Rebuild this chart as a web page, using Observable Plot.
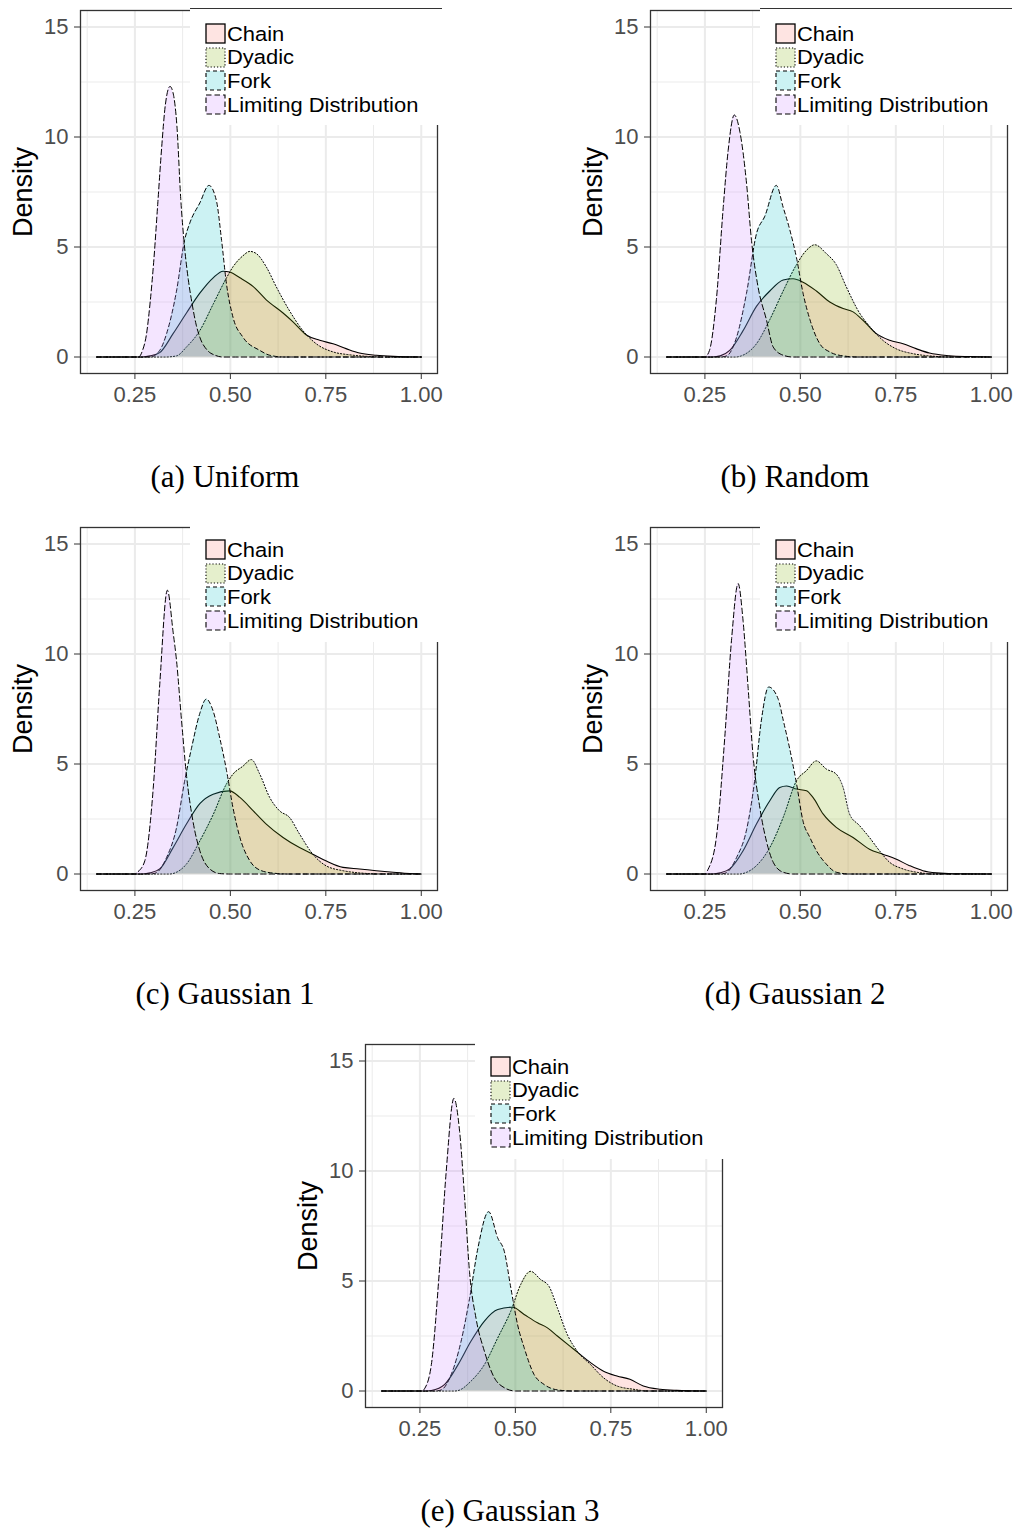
<!DOCTYPE html>
<html><head><meta charset="utf-8">
<script src="https://cdn.jsdelivr.net/npm/d3@7"></script>
<script src="https://cdn.jsdelivr.net/npm/@observablehq/plot@0.6"></script>
<style>
body{margin:0;background:#fff;}
#root{position:relative;width:1020px;height:1528px;background:#fff;font-family:"Liberation Sans",Arial,sans-serif;overflow:hidden;}
.panel{position:absolute;width:450px;height:520px;}
.panel > svg{position:absolute;left:0;top:0;}
.legend{position:absolute;left:190px;top:8px;width:252px;height:117px;background:#fff;box-sizing:border-box;padding-top:13px;}
.legend.topline{border-top:1px solid #333;}
.lrow{height:23.6px;display:flex;align-items:center;padding-left:15px;color:#000;white-space:nowrap;}
.lrow svg{flex:none;margin-right:1px;}
.lrow span{display:inline-block;font-size:20.5px;line-height:normal;transform:scaleX(1.07);transform-origin:left center;}
.caption{position:absolute;left:0;top:461px;width:450px;text-align:center;font-family:"Liberation Serif","Times New Roman",serif;font-size:31px;line-height:31px;color:#000;}
svg [aria-label="x-axis tick label"] text, svg [aria-label="y-axis tick label"] text{fill:#4d4d4d;}
</style>
</head><body><div id="root"></div>
<script>
// ---- shared categories / ticks ----
const seriesNames = ["Chain", "Dyadic", "Fork", "Limiting Distribution"];
const seriesColors = ["#F8766D", "#7CAE00", "#00BFC4", "#C77CFF"];
const seriesDash = [null, "1.2,2", "4,3", "5.5,3"];
const xTicks = [0.25, 0.5, 0.75, 1.0];
const xMinor = [0.125, 0.375, 0.625, 0.875];
const yTicks = [0, 5, 10, 15];
const yMinor = [2.5, 7.5, 12.5];
const panelCaptions = ["(a) Uniform", "(b) Random", "(c) Gaussian 1", "(d) Gaussian 2", "(e) Gaussian 3"];

// ---- (a) Uniform ----
const uniformChain = [[0.15,0],[0.27,0],[0.29,0.05],[0.315,0.2],[0.35,1.06],[0.385,2.0],[0.42,2.9],[0.455,3.6],[0.481,3.9],[0.498,3.86],[0.525,3.6],[0.56,3.2],[0.594,2.6],[0.638,2.0],[0.664,1.6],[0.699,1.0],[0.734,0.76],[0.769,0.6],[0.803,0.38],[0.838,0.18],[0.882,0.08],[0.926,0.03],[1.0,0]];
const uniformDyadic = [[0.15,0],[0.33,0],[0.359,0.05],[0.385,0.45],[0.42,1.2],[0.455,2.4],[0.49,3.6],[0.507,4.1],[0.533,4.6],[0.551,4.8],[0.568,4.7],[0.594,4.1],[0.62,3.2],[0.655,2.1],[0.69,1.2],[0.725,0.6],[0.769,0.23],[0.812,0.1],[0.856,0.03],[0.9,0],[1.0,0]];
const uniformFork = [[0.15,0],[0.29,0],[0.315,0.3],[0.333,1.06],[0.359,3.0],[0.38,5.3],[0.394,6.1],[0.42,7.0],[0.444,7.8],[0.4635,7.1],[0.477,5.3],[0.49,3.3],[0.507,1.8],[0.533,0.9],[0.577,0.3],[0.603,0.08],[0.64,0],[1.0,0]];
const uniformLimiting = [[0.15,0],[0.26,0],[0.27,0.3],[0.28,1.0],[0.29,2.5],[0.30,4.5],[0.31,7.0],[0.32,9.5],[0.33,11.5],[0.342,12.3],[0.35,12.0],[0.36,10.5],[0.37,7.2],[0.38,5.0],[0.39,3.5],[0.40,2.4],[0.41,1.5],[0.42,0.9],[0.44,0.3],[0.46,0.08],[0.48,0],[1.0,0]];

// ---- (b) Random ----
const randomChain = [[0.15,0],[0.27,0],[0.29,0.05],[0.315,0.3],[0.35,1.2],[0.385,2.3],[0.42,3.0],[0.455,3.5],[0.481,3.56],[0.507,3.4],[0.542,3.0],[0.577,2.5],[0.612,2.2],[0.638,2.05],[0.664,1.67],[0.699,1.06],[0.734,0.76],[0.769,0.6],[0.803,0.38],[0.838,0.18],[0.89,0.06],[0.94,0.02],[1.0,0]];
const randomDyadic = [[0.15,0],[0.33,0],[0.345,0.05],[0.385,0.6],[0.42,1.7],[0.455,3.0],[0.49,4.2],[0.516,4.85],[0.538,5.1],[0.568,4.7],[0.594,4.2],[0.62,3.2],[0.655,2.0],[0.681,1.4],[0.716,0.76],[0.75,0.38],[0.795,0.15],[0.838,0.05],[0.9,0],[1.0,0]];
const randomFork = [[0.15,0],[0.29,0],[0.307,0.05],[0.333,0.9],[0.359,2.9],[0.385,5.6],[0.407,6.4],[0.437,7.8],[0.455,6.8],[0.472,5.8],[0.49,4.5],[0.507,2.9],[0.525,1.7],[0.551,0.6],[0.577,0.23],[0.612,0.05],[0.65,0],[1.0,0]];
const randomLimiting = [[0.15,0],[0.25,0],[0.262,0.3],[0.28,2.6],[0.298,6.8],[0.311,9.4],[0.327,11.0],[0.342,10.2],[0.359,7.9],[0.372,5.3],[0.389,3.2],[0.411,1.7],[0.429,0.45],[0.455,0.08],[0.48,0],[1.0,0]];

// ---- (c) Gaussian 1 ----
const gauss1Chain = [[0.15,0],[0.27,0],[0.29,0.05],[0.315,0.23],[0.35,1.2],[0.385,2.27],[0.42,3.2],[0.455,3.63],[0.498,3.78],[0.525,3.48],[0.56,2.87],[0.594,2.27],[0.638,1.66],[0.681,1.2],[0.716,0.9],[0.75,0.6],[0.795,0.3],[0.838,0.23],[0.882,0.15],[0.926,0.08],[0.97,0.02],[1.0,0]];
const gauss1Dyadic = [[0.15,0],[0.34,0],[0.355,0.05],[0.385,0.45],[0.42,1.5],[0.455,2.7],[0.49,4.1],[0.507,4.54],[0.533,4.9],[0.555,5.2],[0.577,4.54],[0.603,3.48],[0.629,2.87],[0.655,2.57],[0.681,1.82],[0.716,0.9],[0.75,0.38],[0.795,0.15],[0.838,0.05],[0.9,0],[1.0,0]];
const gauss1Fork = [[0.15,0],[0.29,0],[0.305,0.05],[0.333,0.75],[0.359,2.1],[0.38,4.2],[0.398,5.7],[0.42,7.3],[0.437,7.95],[0.455,7.4],[0.472,6.2],[0.49,4.7],[0.507,3.0],[0.525,1.66],[0.551,0.6],[0.577,0.18],[0.612,0.04],[0.65,0],[1.0,0]];
const gauss1Limiting = [[0.15,0],[0.25,0],[0.258,0.1],[0.276,0.6],[0.298,3.9],[0.315,8.6],[0.335,12.9],[0.35,11.0],[0.359,9.7],[0.372,7.0],[0.385,4.5],[0.402,2.4],[0.42,1.06],[0.446,0.23],[0.472,0.02],[0.5,0],[1.0,0]];

// ---- (d) Gaussian 2 ----
const gauss2Chain = [[0.15,0],[0.27,0],[0.29,0.05],[0.315,0.23],[0.35,1.06],[0.385,2.27],[0.42,3.33],[0.446,3.93],[0.464,4.0],[0.49,3.86],[0.516,3.78],[0.533,3.48],[0.56,2.72],[0.594,2.12],[0.638,1.66],[0.681,1.13],[0.716,0.9],[0.75,0.68],[0.786,0.38],[0.821,0.15],[0.856,0.05],[0.9,0.01],[1.0,0]];
const gauss2Dyadic = [[0.15,0],[0.34,0],[0.355,0.05],[0.385,0.38],[0.42,1.2],[0.455,2.57],[0.49,4.24],[0.516,4.7],[0.542,5.14],[0.568,4.77],[0.594,4.54],[0.612,3.93],[0.629,2.72],[0.655,2.2],[0.681,1.66],[0.707,1.06],[0.734,0.53],[0.769,0.23],[0.812,0.06],[0.85,0],[1.0,0]];
const gauss2Fork = [[0.15,0],[0.29,0],[0.305,0.05],[0.333,0.75],[0.359,2.0],[0.38,4.2],[0.398,7.0],[0.417,8.5],[0.442,7.95],[0.455,7.0],[0.472,5.7],[0.49,4.1],[0.507,2.4],[0.525,1.66],[0.542,1.06],[0.568,0.45],[0.594,0.08],[0.63,0],[1.0,0]];
const gauss2Limiting = [[0.15,0],[0.25,0],[0.258,0.2],[0.28,1.66],[0.302,6.2],[0.32,10.7],[0.337,13.2],[0.35,11.5],[0.363,8.5],[0.376,5.4],[0.394,3.0],[0.411,1.5],[0.429,0.53],[0.455,0.08],[0.48,0],[1.0,0]];

// ---- (e) Gaussian 3 ----
const gauss3Chain = [[0.15,0],[0.27,0],[0.28,0.02],[0.315,0.3],[0.35,1.2],[0.384,2.27],[0.419,3.18],[0.454,3.7],[0.493,3.81],[0.523,3.48],[0.558,3.1],[0.584,2.87],[0.61,2.5],[0.653,1.9],[0.697,1.29],[0.731,0.9],[0.766,0.68],[0.8,0.53],[0.835,0.23],[0.879,0.08],[0.922,0.03],[1.0,0]];
const gauss3Dyadic = [[0.15,0],[0.34,0],[0.35,0.02],[0.384,0.45],[0.419,1.2],[0.454,2.42],[0.488,3.63],[0.514,4.84],[0.54,5.44],[0.566,5.07],[0.588,4.76],[0.61,3.78],[0.636,2.57],[0.662,1.81],[0.697,1.2],[0.731,0.6],[0.766,0.23],[0.809,0.08],[0.85,0],[1.0,0]];
const gauss3Fork = [[0.15,0],[0.29,0],[0.306,0.05],[0.332,0.75],[0.358,2.27],[0.38,4.2],[0.402,6.5],[0.43,8.15],[0.454,6.95],[0.471,6.35],[0.488,4.7],[0.506,3.0],[0.523,1.97],[0.549,0.75],[0.575,0.3],[0.61,0.05],[0.65,0],[1.0,0]];
const gauss3Limiting = [[0.15,0],[0.255,0],[0.262,0.1],[0.28,1.2],[0.302,5.7],[0.319,10.0],[0.339,13.3],[0.354,11.8],[0.367,8.8],[0.38,5.4],[0.397,3.3],[0.419,1.8],[0.445,0.6],[0.471,0.15],[0.5,0],[1.0,0]];

const panels = [
  {series: [uniformChain, uniformDyadic, uniformFork, uniformLimiting], left: 0, top: 0, topline: true},
  {series: [randomChain, randomDyadic, randomFork, randomLimiting], left: 570, top: 0, topline: true},
  {series: [gauss1Chain, gauss1Dyadic, gauss1Fork, gauss1Limiting], left: 0, top: 517, topline: false},
  {series: [gauss2Chain, gauss2Dyadic, gauss2Fork, gauss2Limiting], left: 570, top: 517, topline: false},
  {series: [gauss3Chain, gauss3Dyadic, gauss3Fork, gauss3Limiting], left: 285, top: 1034, topline: false}
];

const root = document.getElementById("root");

panels.forEach((p, pi) => {
  const div = document.createElement("div");
  div.className = "panel";
  div.style.left = p.left + "px";
  div.style.top = p.top + "px";

  const marks = [
    Plot.ruleX(xMinor, {stroke: "#ebebeb", strokeWidth: 1}),
    Plot.ruleY(yMinor, {stroke: "#ebebeb", strokeWidth: 1}),
    Plot.ruleX(xTicks, {stroke: "#ebebeb", strokeWidth: 2}),
    Plot.ruleY(yTicks, {stroke: "#ebebeb", strokeWidth: 2})
  ];
  p.series.forEach((pts, si) => {
    const rows = pts.map(([x, y]) => ({x, y}));
    marks.push(Plot.areaY(rows, {x: "x", y: "y", fill: seriesColors[si], fillOpacity: 0.2, curve: "monotone-x"}));
    marks.push(Plot.lineY(rows, {x: "x", y: "y", stroke: "#000", strokeWidth: si === 0 ? 1.1 : 1,
      strokeDasharray: seriesDash[si] || undefined, curve: "monotone-x"}));
  });
  marks.push(Plot.frame({stroke: "#333", strokeWidth: 1.3}));
  marks.push(Plot.axisX({ticks: xTicks, tickFormat: d3.format(".2f"), tickSize: 6, tickPadding: 7, fontSize: 22, label: null, stroke: "#333"}));
  marks.push(Plot.axisY({ticks: yTicks, tickFormat: d3.format("d"), tickSize: 6, tickPadding: 6, fontSize: 22, label: null, stroke: "#333"}));
  marks.push(Plot.text(["Density"], {frameAnchor: "left", text: d => d, dx: -57, rotate: -90, textAnchor: "middle", fontSize: 27, fill: "#000"}));

  const chart = Plot.plot({
    width: 450, height: 420,
    marginLeft: 80, marginRight: 13, marginTop: 10, marginBottom: 47,
    x: {domain: [0.1075, 1.0425]},
    y: {domain: [-0.75, 15.75]},
    style: {fontFamily: "'Liberation Sans', Arial, sans-serif", color: "#333", background: "transparent", overflow: "visible"},
    marks
  });
  div.appendChild(chart);

  // legend overlay
  const leg = document.createElement("div");
  leg.className = "legend" + (p.topline ? " topline" : "");
  seriesNames.forEach((name, si) => {
    const row = document.createElement("div");
    row.className = "lrow";
    const dash = seriesDash[si] ? `stroke-dasharray="${seriesDash[si]}"` : "";
    row.innerHTML = `<svg width="21" height="21" viewBox="0 0 21 21"><rect x="1" y="1" width="19" height="19" fill="${seriesColors[si]}" fill-opacity="0.2" stroke="#000" stroke-width="${si===0?1.3:1.1}" ${dash}/></svg><span>${name}</span>`;
    leg.appendChild(row);
  });
  div.appendChild(leg);

  const cap = document.createElement("div");
  cap.className = "caption";
  cap.textContent = panelCaptions[pi];
  div.appendChild(cap);

  root.appendChild(div);
});
</script></body></html>
